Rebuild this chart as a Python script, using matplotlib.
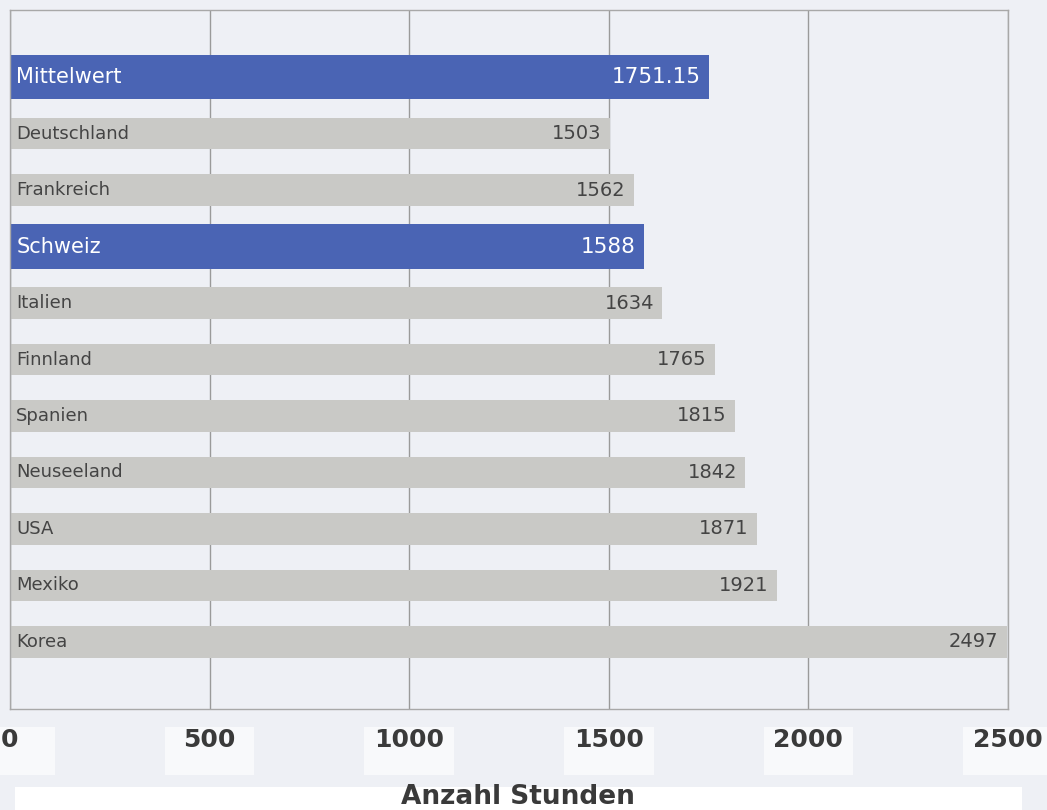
import matplotlib.pyplot as plt
from matplotlib.patches import Rectangle

# Jährliche Arbeitsstunden
countries = ['Mittelwert', 'Deutschland', 'Frankreich', 'Schweiz', 'Italien', 'Finnland',
             'Spanien', 'Neuseeland', 'USA', 'Mexiko', 'Korea']
hours = [1751.15, 1503, 1562, 1588, 1634, 1765, 1815, 1842, 1871, 1921, 2497]
value_labels = ['1751.15', '1503', '1562', '1588', '1634', '1765', '1815', '1842', '1871', '1921', '2497']
highlight = ['Mittelwert', 'Schweiz']
xticks = [0, 500, 1000, 1500, 2000, 2500]

bg = '#eef0f5'
blue = '#4a64b4'
grey = '#c9c9c6'
txt = '#444444'

plt.rcParams['font.family'] = ['DejaVu Sans']

fig = plt.figure(figsize=(10.47, 8.10), dpi=100, facecolor=bg)
ax = fig.add_axes([10 / 1047, 101 / 810, 998 / 1047, 699 / 810])
ax.set_facecolor(bg)

for i, (name, h, lab) in enumerate(zip(countries, hours, value_labels)):
    hl = name in highlight
    ax.barh(i, h, height=0.78 if hl else 0.55, color=blue if hl else grey, zorder=2)
    col = 'white' if hl else txt
    ax.annotate(name, (0, i), xytext=(4.5, 0), textcoords='offset points',
                va='center', ha='left', color=col, fontsize=15 if hl else 13, zorder=3)
    ax.annotate(lab, (h, i), xytext=(-6, 0), textcoords='offset points',
                va='center', ha='right', color=col, fontsize=15.5 if hl else 14, zorder=3)

ax.set_xlim(0, 2500)
ax.set_ylim(11.186, -1.186)
ax.set_yticks([])
ax.set_xticks(xticks)
ax.set_xticklabels([str(x) for x in xticks], fontsize=18, fontweight='bold', color='#3a3a3a')
ax.tick_params(axis='x', length=0, pad=14)
ax.grid(axis='x', color='#9a9a9a', linewidth=1, zorder=1)
for s in ax.spines.values():
    s.set_color('#a8a8a8')
    s.set_linewidth(1)

# helle Kästchen hinter den Achsenbeschriftungen
for x in xticks:
    ax.add_patch(Rectangle((x - 112, -0.0944), 224, 0.0687, transform=ax.get_xaxis_transform(),
                           facecolor='#f8f9fb', edgecolor='none', clip_on=False, zorder=0))

fig.patches.append(Rectangle((15 / 1047, 0), 1007 / 1047, 23 / 810, transform=fig.transFigure,
                             facecolor='white', edgecolor='none', zorder=0))
fig.text(518 / 1047, 0.5 / 810, 'Anzahl Stunden', ha='center', va='bottom',
         fontsize=19, fontweight='bold', color='#3a3a3a')

fig.savefig('out.png', dpi=100, facecolor=bg)
